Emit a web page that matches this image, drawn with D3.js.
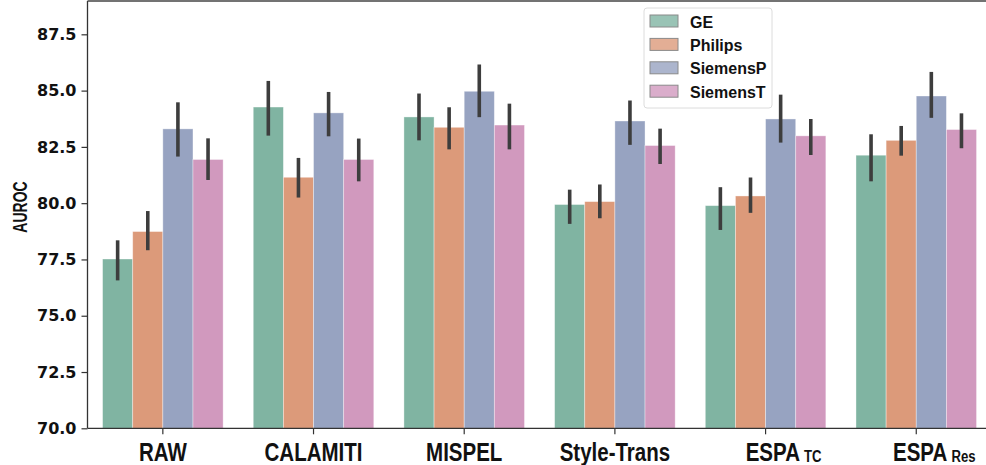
<!DOCTYPE html>
<html>
<head>
<meta charset="utf-8">
<script src="https://cdn.jsdelivr.net/npm/d3@7"></script>
<style>
  html, body { margin: 0; padding: 0; background: #fff; }
  svg { display: block; }
</style>
</head>
<body>
<svg id="chart" width="986" height="465"></svg>
<script>
// Methods (x groups) and scanner vendors (hue series)
const methods   = ["RAW", "CALAMITI", "MISPEL", "Style-Trans", "ESPA_TC", "ESPA_Res"];
const labelMain = ["RAW", "CALAMITI", "MISPEL", "Style-Trans", "ESPA", "ESPA"];
const labelSub  = ["", "", "", "", "TC", "Res"];
const vendors   = ["GE", "Philips", "SiemensP", "SiemensT"];

// Mean AUROC per method for each vendor
const GE       = [77.52, 84.27, 83.83, 79.94, 79.89, 82.13];
const Philips  = [78.74, 81.15, 83.37, 80.07, 80.32, 82.79];
const SiemensP = [83.30, 84.01, 84.97, 83.65, 83.74, 84.76];
const SiemensT = [81.94, 81.94, 83.47, 82.56, 82.99, 83.27];

// Confidence interval bounds
const GE_lo       = [76.57, 83.00, 82.79, 79.08, 78.81, 80.97];
const GE_hi       = [78.35, 85.43, 84.87, 80.60, 80.71, 83.06];
const Philips_lo  = [77.91, 80.25, 82.39, 79.33, 79.57, 82.11];
const Philips_hi  = [79.65, 82.01, 84.26, 80.83, 81.14, 83.43];
const SiemensP_lo = [82.07, 82.97, 83.82, 82.59, 82.69, 83.79];
const SiemensP_hi = [84.48, 84.94, 86.16, 84.56, 84.82, 85.83];
const SiemensT_lo = [81.03, 80.97, 82.39, 81.74, 82.14, 82.44];
const SiemensT_hi = [82.88, 82.87, 84.42, 83.31, 83.74, 83.99];

const yTicks = [70, 72.5, 75, 77.5, 80, 82.5, 85, 87.5];
const yMin = 70, yMax = 88.98;

const colors = ["#80b4a2", "#dc9a7a", "#97a3c1", "#d199be"];

const means = [GE, Philips, SiemensP, SiemensT];
const lows  = [GE_lo, Philips_lo, SiemensP_lo, SiemensT_lo];
const highs = [GE_hi, Philips_hi, SiemensP_hi, SiemensT_hi];

const rows = [];
methods.forEach((m, i) => {
  vendors.forEach((v, j) => {
    rows.push({ method: m, vendor: v, value: means[j][i], lo: lows[j][i], hi: highs[j][i], color: colors[j] });
  });
});

const svg = d3.select("#chart");
const plotLeft = 87.5, plotBottom = 428.3, plotTop = 1, plotRight = 991.6;

const x = d3.scaleBand().domain(methods).range([plotLeft, plotRight]).paddingInner(0.2).paddingOuter(0.1);
const xs = d3.scaleBand().domain(vendors).range([0, x.bandwidth()]);
const y = d3.scaleLinear().domain([yMin, yMax]).range([plotBottom, plotTop]);

// Bars
svg.append("g").selectAll("rect").data(rows).join("rect")
  .attr("x", d => x(d.method) + xs(d.vendor))
  .attr("y", d => y(d.value))
  .attr("width", xs.bandwidth())
  .attr("height", d => y(yMin) - y(d.value))
  .attr("fill", d => d.color)
  .attr("stroke", "#ffffff")
  .attr("stroke-opacity", 0.45)
  .attr("stroke-width", 0.8);

// Error bars
svg.append("g").selectAll("line").data(rows).join("line")
  .attr("x1", d => x(d.method) + xs(d.vendor) + xs.bandwidth() / 2)
  .attr("x2", d => x(d.method) + xs(d.vendor) + xs.bandwidth() / 2)
  .attr("y1", d => y(d.lo))
  .attr("y2", d => y(d.hi))
  .attr("stroke", "#3d3d3d")
  .attr("stroke-width", 3.6);

// Y axis
const yAxis = svg.append("g")
  .attr("transform", `translate(${plotLeft},0)`)
  .call(d3.axisLeft(y).tickValues(yTicks).tickFormat(d3.format(".1f")).tickSize(6).tickPadding(5));
yAxis.select(".domain").remove();
yAxis.selectAll("text")
  .attr("font-family", "DejaVu Sans")
  .attr("font-weight", "bold")
  .attr("font-size", 16)
  .attr("fill", "#111");
yAxis.selectAll(".tick line").attr("stroke", "#333").attr("stroke-width", 1.2);

// X axis
const xAxis = svg.append("g")
  .attr("transform", `translate(0,${plotBottom})`)
  .call(d3.axisBottom(x).tickSize(6).tickFormat(""));
xAxis.select(".domain").remove();
xAxis.selectAll(".tick line").attr("stroke", "#333").attr("stroke-width", 1.2);

// X labels (condensed bold) with subscripts
const xl = svg.append("g").selectAll("text").data(methods).join("text")
  .attr("transform", (d, i) =>
    `translate(${x(d) + x.bandwidth() / 2 + (labelSub[i] ? 18 : 0)},460.5) scale(0.82,1)`)
  .attr("text-anchor", "middle")
  .attr("font-family", "Liberation Sans, Arial")
  .attr("font-weight", "bold")
  .attr("font-size", 25)
  .attr("fill", "#111");
xl.append("tspan").text((d, i) => labelMain[i]);
xl.filter((d, i) => labelSub[i]).append("tspan")
  .attr("dx", 5)
  .attr("dy", 1)
  .attr("font-size", 16)
  .text(d => labelSub[methods.indexOf(d)]);

// Spines
svg.append("line").attr("x1", plotLeft).attr("x2", plotLeft).attr("y1", plotTop).attr("y2", plotBottom)
  .attr("stroke", "#333").attr("stroke-width", 1.3);
svg.append("line").attr("x1", plotLeft).attr("x2", plotRight).attr("y1", plotBottom).attr("y2", plotBottom)
  .attr("stroke", "#333").attr("stroke-width", 1.3);
svg.append("line").attr("x1", plotLeft).attr("x2", plotRight).attr("y1", plotTop).attr("y2", plotTop)
  .attr("stroke", "#444").attr("stroke-width", 1.5);

// Y axis title
svg.append("text")
  .attr("transform", "translate(26.5,207) rotate(-90) scale(0.72,1)")
  .attr("text-anchor", "middle")
  .attr("font-family", "Liberation Sans, Arial")
  .attr("font-weight", "bold")
  .attr("font-size", 19.5)
  .attr("fill", "#111")
  .text("AUROC");

// Legend
const lg = svg.append("g").attr("transform", "translate(644,8)");
lg.append("rect")
  .attr("width", 128).attr("height", 100).attr("rx", 3)
  .attr("fill", "#fff").attr("fill-opacity", 0.85)
  .attr("stroke", "#dcdcdc").attr("stroke-width", 1);
const items = lg.selectAll("g.item").data(vendors).join("g")
  .attr("class", "item")
  .attr("transform", (d, i) => `translate(0,${14 + i * 23.4})`);
items.append("rect")
  .attr("x", 6).attr("y", -7).attr("width", 28).attr("height", 12)
  .attr("fill", (d, i) => colors[i]).attr("fill-opacity", 0.8)
  .attr("stroke", "#8a8a8a").attr("stroke-width", 1);
items.append("text")
  .attr("x", 46).attr("y", 5.5)
  .attr("font-family", "Liberation Sans, Arial")
  .attr("font-weight", "bold")
  .attr("font-size", 16)
  .attr("fill", "#111")
  .text(d => d);
</script>
</body>
</html>
